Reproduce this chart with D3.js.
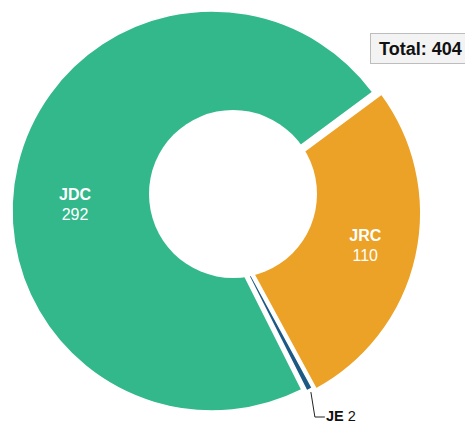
<!DOCTYPE html>
<html>
<head>
<meta charset="utf-8">
<script src="https://cdn.jsdelivr.net/npm/d3@7"></script>
<style>
  body { margin: 0; background: #fff; }
  svg { display: block; font-family: "Liberation Sans", Arial, sans-serif; }
</style>
</head>
<body>
<div id="chart"></div>
<script>
// slice data
var names = ["JDC", "JRC", "JE"]
var values = [292, 110, 2]
var colors = ["#33b88b", "#eca226", "#1c5a85"]
var totalLabel = "Total: 404"

var width = 465
var height = 424
var cx = 212
var cy = 211
var outerR = 200
var holeR = 84
var holeShift = [21, -17]
var startAngle = 153.3 * Math.PI / 180
// exploded slices, px
var explode = { JRC: 9, JE: 5 }
var labelR = 148
var labelNudge = { JDC: [7, 27] }

var svg = d3.select('#chart').append('svg')
  .attr('width', width)
  .attr('height', height)

var data = names.map((n, i) => ({ name: n, value: values[i], color: colors[i] }))

var pie = d3.pie()
  .sort(null)
  .value(d => d.value)
  .startAngle(startAngle)
  .endAngle(startAngle + 2 * Math.PI)

var arcs = pie(data)

var arc = d3.arc()
  .innerRadius(0)
  .outerRadius(outerR)

// the exploded group moves along its common bisector
var grp = arcs.filter(a => explode[a.data.name])
var grpMid = (d3.min(grp, a => a.startAngle) + d3.max(grp, a => a.endAngle)) / 2
var dir = [Math.sin(grpMid), -Math.cos(grpMid)]

var offset = a => {
  var e = explode[a.data.name] || 0
  return [dir[0] * e, dir[1] * e]
}

var g = svg.append('g')
  .attr('transform', 'translate(' + [cx, cy] + ')')

g.selectAll('.slice')
  .data(arcs)
  .enter().append('path')
  .attr('class', 'slice')
  .attr('transform', d => 'translate(' + offset(d) + ')')
  .attr('d', arc)
  .style('fill', d => d.data.color)
  .style('stroke', 'white')
  .style('stroke-width', 1.5)
  .style('stroke-linejoin', 'round')

g.append('circle')
  .attr('cx', holeShift[0])
  .attr('cy', holeShift[1])
  .attr('r', holeR)
  .style('fill', 'white')

// inside labels
var inside = arcs.filter(a => a.data.name !== 'JE')

var lab = g.selectAll('.lab')
  .data(inside)
  .enter().append('text')
  .attr('class', 'lab')
  .style('fill', 'white')
  .style('font-size', '16px')
  .style('text-anchor', 'middle')
  .attr('transform', d => {
    var m = (d.startAngle + d.endAngle) / 2
    var o = offset(d)
    var n = labelNudge[d.data.name] || [0, 0]
    return 'translate(' + [Math.sin(m) * labelR + o[0] + n[0], -Math.cos(m) * labelR + o[1] + n[1]] + ')'
  })

lab.append('tspan')
  .attr('x', 0)
  .attr('y', -4)
  .style('font-weight', 700)
  .text(d => d.data.name)

lab.append('tspan')
  .attr('x', 0)
  .attr('y', 16)
  .text(d => d.data.value)

// outside label with leader
var je = arcs.find(a => a.data.name === 'JE')
var jm = (je.startAngle + je.endAngle) / 2
var jo = offset(je)
var p0 = [Math.sin(jm) * (outerR + 3) + jo[0], -Math.cos(jm) * (outerR + 3) + jo[1]]
var ly = 206
var p1 = [p0[0] + 4, ly]
var p2 = [p1[0] + 10, ly]

g.append('path')
  .attr('d', d3.line()([p0, p1, p2]))
  .style('fill', 'none')
  .style('stroke', '#222')
  .style('stroke-width', 1)

var jt = g.append('text')
  .attr('x', p2[0] + 1)
  .attr('y', ly + 3.5)
  .style('font-size', '14.5px')
  .style('fill', '#111')

jt.append('tspan')
  .style('font-weight', 700)
  .text(je.data.name)

jt.append('tspan')
  .text(' ' + je.data.value)

// total box
var tb = svg.append('g')
  .attr('transform', 'translate(' + [370, 33] + ')')

tb.append('rect')
  .attr('x', 0.5)
  .attr('y', 0.5)
  .attr('width', 110)
  .attr('height', 30)
  .style('fill', '#f3f3f3')
  .style('stroke', '#bdbdbd')
  .style('stroke-width', 1)

tb.append('text')
  .attr('x', 9)
  .attr('y', 22)
  .style('font-size', '18px')
  .style('font-weight', 700)
  .style('fill', '#111')
  .text(totalLabel)
</script>
</body>
</html>
